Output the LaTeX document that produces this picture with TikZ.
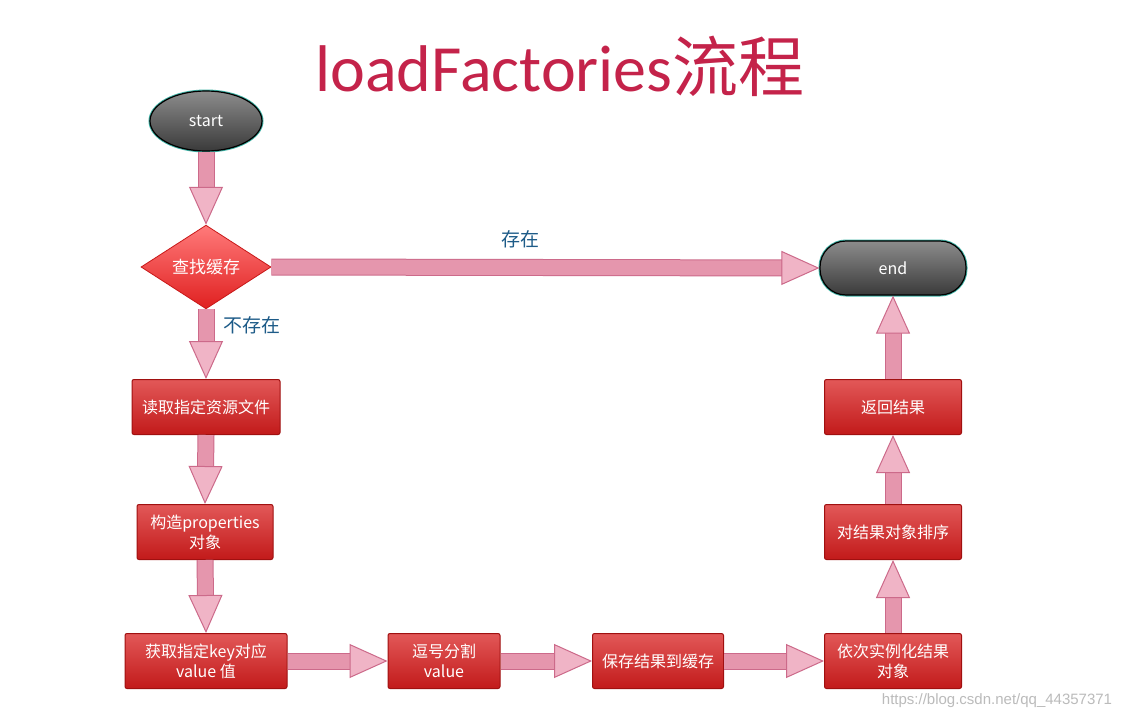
\documentclass[tikz,border=0pt]{standalone}
\usepackage{fontspec}
\newfontfamily\cjk{Noto Sans CJK SC}
\newfontfamily\carlito{Carlito}
\newfontfamily\libsans{Liberation Sans}
\usetikzlibrary{shapes.geometric,arrows.meta}
\definecolor{titlered}{HTML}{C4234A}
\definecolor{boxtop}{HTML}{E25858}
\definecolor{boxmid}{HTML}{D02626}
\definecolor{boxbot}{HTML}{C21A1A}
\definecolor{boxline}{HTML}{A01010}
\definecolor{diatop}{HTML}{FF7A7A}
\definecolor{diabot}{HTML}{E02020}
\definecolor{dialine}{HTML}{C81818}
\definecolor{pinkfill}{HTML}{E596AD}
\definecolor{pinkline}{HTML}{CC6A8A}
\definecolor{pinktip}{HTML}{F0B4C6}
\definecolor{graytop}{HTML}{8C8C8C}
\definecolor{graybot}{HTML}{3A3A3A}
\definecolor{tealline}{HTML}{3FB3A6}
\definecolor{labelblue}{HTML}{1D5B88}
\definecolor{wmgray}{HTML}{BBBBBB}
\begin{document}
\begin{tikzpicture}[x=1pt,y=-1pt,
  box/.style={rectangle, rounded corners=2pt, draw=boxline, line width=1pt,
    top color=boxtop, middle color=boxmid, bottom color=boxbot, text=white,
    font=\cjk\fontsize{16}{20}\selectfont, align=center, inner sep=0pt,
    minimum height=55pt},
  darknode/.style={draw=black, line width=1.2pt, top color=graytop, bottom color=graybot,
    text=white, font=\cjk\fontsize{16}{18}\selectfont, inner sep=0pt,
    preaction={draw=tealline, line width=3pt}},
  fat/.style={draw=pinkfill, line width=15pt,
    -{Triangle[width=34pt,length=38pt,line width=1pt,color=pinkline,fill=pinktip]},
    preaction={draw=pinkline, line width=17pt, -, shorten >=37pt}},
  lbl/.style={text=labelblue, font=\cjk\fontsize{19}{22}\selectfont}
]
\useasboundingbox (0,0) rectangle (1126,720);
\fill[white] (0,0) rectangle (1126,720);

\node[text=titlered, font=\fontsize{66}{70}\selectfont] (title) at (560,66)
  {{\carlito loadFactories}{\cjk 流程}};

\node[darknode, ellipse, minimum width=112pt, minimum height=60pt] (start) at (206,121) {start};
\node[diamond, minimum width=130pt, minimum height=76pt, inner sep=0pt,
  top color=diatop, bottom color=diabot, draw=dialine, line width=0.8pt,
  text=white, font=\cjk\fontsize{17}{20}\selectfont] (dia) at (206,267) {查找缓存};
\node[darknode, rectangle, rounded corners=26pt, minimum width=146pt, minimum height=54pt] (end) at (893,268) {end};

\node[box, minimum width=148pt] (b1) at (206,407) {读取指定资源文件};
\node[box, minimum width=136pt] (b2) at (205,532) {构造properties\\对象};
\node[box, minimum width=162pt] (b3) at (206,661) {获取指定key对应\\value 值};
\node[box, minimum width=112pt] (b4) at (444,661) {逗号分割\\value};
\node[box, minimum width=131pt] (b5) at (658,661) {保存结果到缓存};
\node[box, minimum width=137pt] (b6) at (893,661) {依次实例化结果\\对象};
\node[box, minimum width=137pt] (b7) at (893,532) {对结果对象排序};
\node[box, minimum width=137pt] (b8) at (893,407) {返回结果};

\draw[fat] (start.south) -- (dia.north);
\draw[fat] (dia.east) -- (end.west);
\draw[fat] (dia.south) -- (b1.north);
\draw[fat] (b1.south) -- (b2.north);
\draw[fat] (b2.south) -- (b3.north);
\draw[fat] (b3.east) -- (b4.west);
\draw[fat] (b4.east) -- (b5.west);
\draw[fat] (b5.east) -- (b6.west);
\draw[fat] (b6.north) -- (b7.south);
\draw[fat] (b7.north) -- (b8.south);
\draw[fat] (b8.north) -- (end.south);

\node[lbl] (l1) at (520,239) {存在};
\node[lbl] (l2) at (252,325) {不存在};

\node[text=wmgray, font=\libsans\fontsize{15}{17}\selectfont] (wm) at (997,701) {https://blog.csdn.net/qq\_44357371};
\end{tikzpicture}
\end{document}
